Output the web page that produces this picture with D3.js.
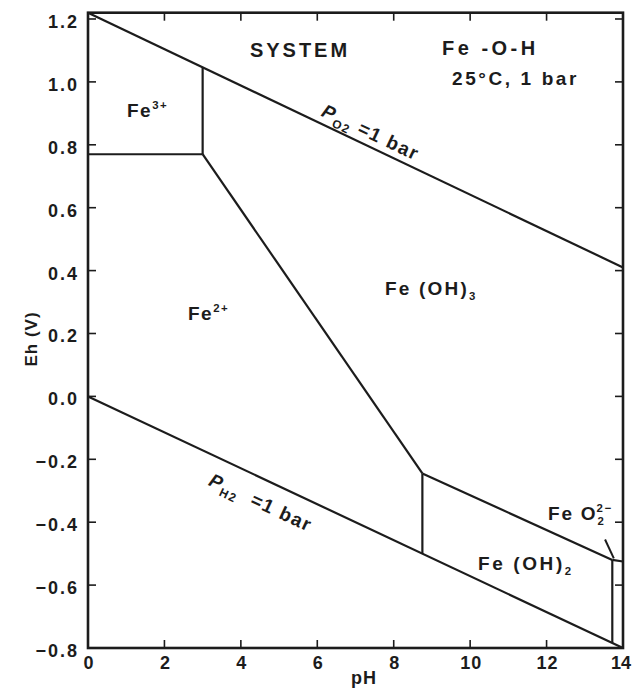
<!DOCTYPE html>
<html>
<head>
<meta charset="utf-8">
<script src="https://cdn.jsdelivr.net/npm/d3@7"></script>
<style>
  html, body { margin: 0; padding: 0; background: #fff; }
  svg { display: block; }
  text { font-family: "Liberation Sans", Arial, Helvetica, sans-serif; font-weight: bold; fill: #1c1c1c; }
</style>
</head>
<body>
<svg id="chart" width="632" height="693"></svg>
<script>
// Axis ticks
const phTicks = [0, 2, 4, 6, 8, 10, 12, 14];
const ehTicks = [-0.8, -0.6, -0.4, -0.2, 0.0, 0.2, 0.4, 0.6, 0.8, 1.0, 1.2];

// Stability boundaries, each as [pH, Eh] pairs
const o2Line      = [[0, 1.22], [14, 0.41]];        // P(O2) = 1 bar
const h2Line      = [[0, 0.0], [14, -0.8]];         // P(H2) = 1 bar
const fe3Fe2      = [[0, 0.77], [3.0, 0.77]];
const fe3FeOH3    = [[3.0, 0.77], [3.0, 1.046]];
const fe2FeOH3    = [[3.0, 0.77], [8.75, -0.245]];
const fe2FeOH2    = [[8.75, -0.245], [8.75, -0.50]];
const feOH3FeOH2  = [[8.75, -0.245], [13.72, -0.52]];
const feOH3FeO2   = [[13.72, -0.52], [14, -0.525]];
const feOH2FeO2   = [[13.72, -0.52], [13.72, -0.784]];

const boundaries = [o2Line, h2Line, fe3Fe2, fe3FeOH3, fe2FeOH3, fe2FeOH2, feOH3FeOH2, feOH3FeO2, feOH2FeO2];

// Text
const titleLines = ["SYSTEM", "Fe -O-H", "25°C, 1 bar"];
const xTitle = "pH";
const yTitle = "Eh (V)";

const svg = d3.select("#chart");
const plotL = 88, plotR = 623, plotT = 12.7, plotB = 648;

const x = d3.scaleLinear().domain([0, 14]).range([plotL, plotR]);
const y = d3.scaleLinear().domain([-0.8, 1.22]).range([plotB, plotT]);

const ink = "#1c1c1c";
const line = d3.line().x(d => x(d[0])).y(d => y(d[1]));

// Frame
svg.append("rect")
  .attr("x", plotL).attr("y", plotT)
  .attr("width", plotR - plotL).attr("height", plotB - plotT)
  .attr("fill", "none").attr("stroke", ink).attr("stroke-width", 2.6);

// Inward ticks on all four sides
const tl = 8;
const fmtEh = v => (v < 0 ? "\u2212" : "") + Math.abs(v).toFixed(1);

svg.append("g").selectAll("line").data(ehTicks).join("line")
  .attr("x1", plotL).attr("x2", plotL + tl)
  .attr("y1", d => y(d)).attr("y2", d => y(d))
  .attr("stroke", ink).attr("stroke-width", 1.6);
svg.append("g").selectAll("line").data(ehTicks).join("line")
  .attr("x1", plotR).attr("x2", plotR - tl)
  .attr("y1", d => y(d)).attr("y2", d => y(d))
  .attr("stroke", ink).attr("stroke-width", 1.6);
svg.append("g").selectAll("line").data(phTicks.slice(1, -1)).join("line")
  .attr("x1", d => x(d)).attr("x2", d => x(d))
  .attr("y1", plotB).attr("y2", plotB - tl)
  .attr("stroke", ink).attr("stroke-width", 1.6);
svg.append("g").selectAll("line").data(phTicks.slice(1, -1)).join("line")
  .attr("x1", d => x(d)).attr("x2", d => x(d))
  .attr("y1", plotT).attr("y2", plotT + tl)
  .attr("stroke", ink).attr("stroke-width", 1.6);

// Tick labels
svg.append("g").selectAll("text").data(ehTicks).join("text")
  .attr("x", plotL - 9).attr("y", d => y(d) + 9)
  .attr("text-anchor", "end")
  .attr("font-size", 18).attr("letter-spacing", 2)
  .text(fmtEh);
svg.append("g").selectAll("text").data(phTicks).join("text")
  .attr("x", d => d === 14 ? 631 : x(d) + 1).attr("y", 669)
  .attr("text-anchor", d => d === 14 ? "end" : "middle")
  .attr("font-size", 18).attr("letter-spacing", d => d === 14 ? 0 : 1)
  .text(d => d);

// Axis titles
svg.append("text").attr("x", 364).attr("y", 684)
  .attr("text-anchor", "middle").attr("font-size", 18).attr("letter-spacing", 1)
  .text(xTitle);
svg.append("text")
  .attr("transform", "translate(37,339) rotate(-90)")
  .attr("text-anchor", "middle").attr("font-size", 17).attr("letter-spacing", 1)
  .text(yTitle);

// Boundaries
svg.append("g").selectAll("path").data(boundaries).join("path")
  .attr("d", line)
  .attr("fill", "none").attr("stroke", ink).attr("stroke-width", 2.2);

// Pointer to the narrow FeO2 2- field
svg.append("line")
  .attr("x1", x(13.53)).attr("y1", y(-0.455))
  .attr("x2", x(13.76)).attr("y2", y(-0.515))
  .attr("stroke", ink).attr("stroke-width", 2);

// System title block
svg.append("text").attr("x", 300).attr("y", 57).attr("text-anchor", "middle")
  .attr("font-size", 20).attr("letter-spacing", 3).text(titleLines[0]);
svg.append("text").attr("x", 442).attr("y", 55)
  .attr("font-size", 20).attr("letter-spacing", 3.5).text(titleLines[1]);
svg.append("text").attr("x", 452).attr("y", 85)
  .attr("font-size", 19).attr("letter-spacing", 2.6).text(titleLines[2]);

// Field labels with sub/superscripts; "back" pulls a part left so it stacks
function chem(px, py, parts, size, spacing) {
  const t = svg.append("text").attr("x", px).attr("y", py)
    .attr("font-size", size).attr("letter-spacing", spacing);
  let shift = 0;
  parts.forEach(p => {
    const target = p.s === "sup" ? -8 : p.s === "sub" ? 5 : 0;
    t.append("tspan")
      .attr("dy", target - shift)
      .attr("dx", p.back ? -p.back : null)
      .attr("font-size", p.s ? size * 0.6 : size)
      .text(p.t);
    shift = target;
  });
  return t;
}

chem(127, 117, [{t: "Fe"}, {t: "3+", s: "sup"}], 19, 1.5);
chem(188, 320, [{t: "Fe"}, {t: "2+", s: "sup"}], 19, 1.5);
chem(385, 295, [{t: "Fe (OH)"}, {t: "3", s: "sub"}], 19, 2.2);
chem(478, 570, [{t: "Fe (OH)"}, {t: "2", s: "sub"}], 19, 2.6);
chem(548, 520, [{t: "Fe O"}, {t: "2", s: "sub"}, {t: "2\u2212", s: "sup", back: 9}], 19, 1.8);

// Gas-pressure labels laid along their lines
function along(pts, pH, offset, parts) {
  const a = Math.atan2(y(pts[1][1]) - y(pts[0][1]), x(pts[1][0]) - x(pts[0][0])) * 180 / Math.PI;
  const eh = pts[0][1] + (pts[1][1] - pts[0][1]) * (pH - pts[0][0]) / (pts[1][0] - pts[0][0]);
  const g = svg.append("g")
    .attr("transform", `translate(${x(pH)},${y(eh)}) rotate(${a}) translate(0,${offset})`);
  const t = g.append("text").attr("font-size", 19).attr("letter-spacing", 1.5)
    .style("white-space", "pre");
  let shift = 0;
  parts.forEach(p => {
    const target = p.s === "sub" ? 5 : 0;
    t.append("tspan")
      .attr("dy", target - shift)
      .attr("font-size", p.s ? 12 : 19)
      .attr("font-style", p.i ? "italic" : null)
      .text(p.t);
    shift = target;
  });
}

along(o2Line, 6.0, -7, [{t: "P", i: true}, {t: "O2", s: "sub"}, {t: " =1 bar"}]);
along(h2Line, 3.45, 29, [{t: "P", i: true}, {t: "H2", s: "sub"}, {t: "\u00a0\u00a0=1 bar"}]);
</script>
</body>
</html>
